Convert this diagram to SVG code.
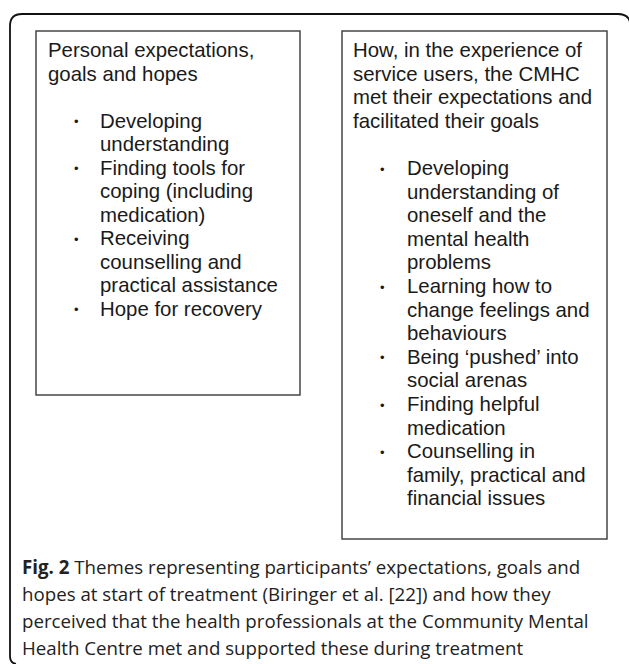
<svg xmlns="http://www.w3.org/2000/svg" width="629" height="664" viewBox="0 0 629 664">
<style>
.box{fill:#fff;stroke:#3a3a3a;stroke-width:1.4}
.t{font-family:"Liberation Sans",Arial,sans-serif;font-size:20.4px;fill:#1a1a1a}
.bl{font-family:"Liberation Sans",Arial,sans-serif;font-size:13px;fill:#1a1a1a}
.cap{font-family:"Open Sans","Noto Sans",sans-serif;font-size:18.7px;fill:#222}
.b{font-weight:bold}
</style>
<rect width="629" height="664" fill="#fff"/>
<path d="M 630 22 Q 628 14 618 14 L 22 14 Q 10 14 10 26 L 10 656 Q 10 663 16 664" fill="none" stroke="#111" stroke-width="1.8"/>
<g id="node-left">
<rect class="box" x="36" y="31" width="264" height="364"/>
<text class="t" x="48" y="57">Personal expectations,</text>
<text class="t" x="48" y="80.5">goals and hopes</text>
<text class="bl" x="74" y="126">•</text>
<text class="t" x="100" y="127.5">Developing</text>
<text class="t" x="100" y="151">understanding</text>
<text class="bl" x="74" y="173">•</text>
<text class="t" x="100" y="174.5">Finding tools for</text>
<text class="t" x="100" y="198">coping (including</text>
<text class="t" x="100" y="221.5">medication)</text>
<text class="bl" x="74" y="243.5">•</text>
<text class="t" x="100" y="245">Receiving</text>
<text class="t" x="100" y="268.5">counselling and</text>
<text class="t" x="100" y="292">practical assistance</text>
<text class="bl" x="74" y="314">•</text>
<text class="t" x="100" y="315.5">Hope for recovery</text>
</g>
<g id="node-right">
<rect class="box" x="342" y="31" width="265" height="508"/>
<text class="t" x="353" y="57">How, in the experience of</text>
<text class="t" x="353" y="80.6">service users, the CMHC</text>
<text class="t" x="353" y="104.2">met their expectations and</text>
<text class="t" x="353" y="127.8">facilitated their goals</text>
<text class="bl" x="380" y="173.5">•</text>
<text class="t" x="407" y="175">Developing</text>
<text class="t" x="407" y="198.6">understanding of</text>
<text class="t" x="407" y="222.2">oneself and the</text>
<text class="t" x="407" y="245.8">mental health</text>
<text class="t" x="407" y="269.4">problems</text>
<text class="bl" x="380" y="291.5">•</text>
<text class="t" x="407" y="293">Learning how to</text>
<text class="t" x="407" y="316.6">change feelings and</text>
<text class="t" x="407" y="340.2">behaviours</text>
<text class="bl" x="380" y="362.3">•</text>
<text class="t" x="407" y="363.8">Being ‘pushed’ into</text>
<text class="t" x="407" y="387.4">social arenas</text>
<text class="bl" x="380" y="409.5">•</text>
<text class="t" x="407" y="411">Finding helpful</text>
<text class="t" x="407" y="434.6">medication</text>
<text class="bl" x="380" y="456.7">•</text>
<text class="t" x="407" y="458.2">Counselling in</text>
<text class="t" x="407" y="481.8">family, practical and</text>
<text class="t" x="407" y="505.4">financial issues</text>
</g>
<g id="caption">
<text class="cap" x="22" y="574"><tspan class="b">Fig. 2</tspan> Themes representing participants’ expectations, goals and</text>
<text class="cap" x="22" y="601">hopes at start of treatment (Biringer et al. [22]) and how they</text>
<text class="cap" x="22" y="628">perceived that the health professionals at the Community Mental</text>
<text class="cap" x="22" y="655">Health Centre met and supported these during treatment</text>
</g>
<g id="connectors"></g>
</svg>
